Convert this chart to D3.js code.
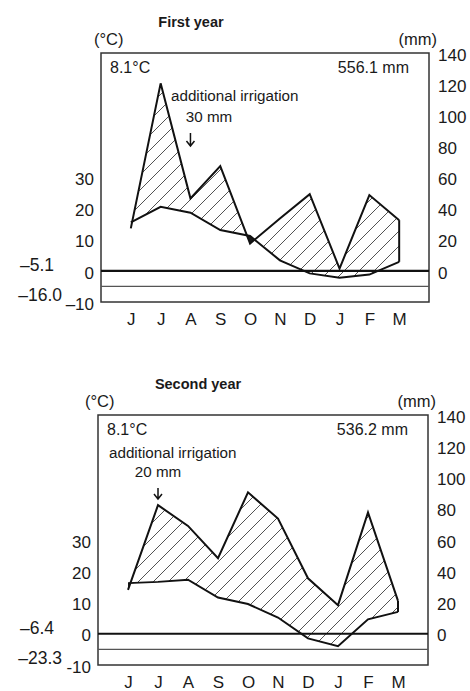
<!DOCTYPE html>
<html>
<head>
<meta charset="utf-8">
<script src="https://cdn.jsdelivr.net/npm/d3@7"></script>
<style>
  body { margin: 0; background: #fff; }
  text { font-family: "Liberation Sans", Arial, sans-serif; fill: #1a1a1a; }
</style>
</head>
<body>
<div id="chart"></div>
<script>
// month labels, June to March
const months = ['J', 'J', 'A', 'S', 'O', 'N', 'D', 'J', 'F', 'M'];
const tempTicks = [-10, 0, 10, 20, 30];
const precipTicks = [0, 20, 40, 60, 80, 100, 120, 140];

// first year
const temp1 = [15.6, 20.6, 18.7, 13.1, 11.2, 3.4, -0.8, -2.2, -1.2, 2.9];
const precip1 = [27.3, 120.5, 46.6, 67.3, 17.6, 33.6, 49.3, 1.5, 48.7, 32.6];
// second year
const temp2 = [16.2, 16.6, 17.3, 11.6, 9.5, 5.2, -1.5, -4.0, 4.6, 7.0];
const precip2 = [28.1, 82.3, 69.0, 48.4, 90.5, 73.7, 35.5, 18.3, 77.6, 21.0];

const titles = ['First year', 'Second year'];
const meanTemps = ['8.1°C', '8.1°C'];
const totals = ['556.1 mm', '536.2 mm'];
const irrigation = ['30 mm', '20 mm'];
const irrigMonth = [2, 1];
const minMean = ['–5.1', '–6.4'];
const minAbs = ['–16.0', '–23.3'];
const bottomTick = ['–10', '-10'];

const width = 470, height = 691;

const svg = d3.select('#chart')
    .append('svg')
    .attr('width', width)
    .attr('height', height);

// hatch pattern
svg.append('defs').append('pattern')
    .attr('id', 'hatch')
    .attr('patternUnits', 'userSpaceOnUse')
    .attr('width', 15)
    .attr('height', 15)
    .append('path')
    .attr('d', 'M-1,1 l2,-2 M0,15 L15,0 M14,16 l2,-2')
    .attr('stroke', '#1a1a1a')
    .attr('stroke-width', 0.75);

const panels = [
    { top: 53, bottom: 302, left: 101, right: 429, temp: temp1, precip: precip1,
      title: 191, unitX: 94, irrigText: [171, 101], irrigNum: [209, 122], arrow: [133, 146] },
    { top: 415, bottom: 665, left: 98, right: 428, temp: temp2, precip: precip2,
      title: 198, unitX: 85, irrigText: [109, 458], irrigNum: [158, 477], arrow: [488, 499] }
];

panels.forEach((p, k) => {
    const g = svg.append('g');

    const x = d3.scalePoint()
        .domain(d3.range(months.length))
        .range([p.left, p.right])
        .padding(1);
    const y = d3.scaleLinear().domain([-10, 70]).range([p.bottom, p.top]);
    const yP = d3.scaleLinear().domain([-20, 140]).range([p.bottom, p.top]);

    const idx = d3.range(months.length);

    // clip regions above and below the temperature line
    const above = d3.area().x(i => x(i)).y0(p.top).y1(i => y(p.temp[i]));
    const below = d3.area().x(i => x(i)).y0(p.bottom).y1(i => y(p.temp[i]));
    const defs = svg.select('defs');
    defs.append('clipPath').attr('id', 'above' + k)
        .append('path').attr('d', above(idx));
    defs.append('clipPath').attr('id', 'below' + k)
        .append('path').attr('d', below(idx));

    const between = d3.area()
        .x(i => x(i))
        .y0(i => y(p.temp[i]))
        .y1(i => yP(p.precip[i]));

    // humid period, hatched
    g.append('path')
        .attr('d', between(idx))
        .attr('fill', 'url(#hatch)')
        .attr('clip-path', `url(#above${k})`);
    // arid period, black
    g.append('path')
        .attr('d', between(idx))
        .attr('fill', '#1a1a1a')
        .attr('clip-path', `url(#below${k})`);

    // frame and reference lines
    g.append('rect')
        .attr('x', p.left).attr('y', p.top)
        .attr('width', p.right - p.left).attr('height', p.bottom - p.top)
        .attr('fill', 'none').attr('stroke', '#333').attr('stroke-width', 1.5);
    g.append('line')
        .attr('x1', p.left).attr('x2', p.right)
        .attr('y1', y(-5)).attr('y2', y(-5))
        .attr('stroke', '#555').attr('stroke-width', 1.3);
    g.append('line')
        .attr('x1', p.left).attr('x2', p.right)
        .attr('y1', y(0)).attr('y2', y(0))
        .attr('stroke', '#111').attr('stroke-width', 2.2);

    // temperature and precipitation lines
    const tLine = d3.line().x(i => x(i)).y(i => y(p.temp[i]));
    const pLine = d3.line().x(i => x(i)).y(i => yP(p.precip[i]));
    g.append('path').attr('d', tLine(idx))
        .attr('fill', 'none').attr('stroke', '#111').attr('stroke-width', 2);
    g.append('path').attr('d', pLine(idx))
        .attr('fill', 'none').attr('stroke', '#111').attr('stroke-width', 2);
    const last = months.length - 1;
    g.append('line')
        .attr('x1', x(last)).attr('x2', x(last))
        .attr('y1', yP(p.precip[last])).attr('y2', y(p.temp[last]))
        .attr('stroke', '#111').attr('stroke-width', 2);

    // axes
    const styleAxis = sel => {
        sel.select('.domain').remove();
        sel.attr('font-size', null).attr('font-family', null);
        sel.selectAll('text').attr('font-size', 17);
    };
    g.append('g')
        .attr('transform', `translate(${p.left},0)`)
        .call(d3.axisLeft(y).tickValues(tempTicks).tickSize(0).tickPadding(7)
            .tickFormat(d => d === -10 ? bottomTick[k] : d))
        .call(styleAxis)
        .selectAll('text').attr('dy', '0.42em');
    g.append('g')
        .attr('transform', `translate(${p.right},0)`)
        .call(d3.axisRight(yP).tickValues(precipTicks).tickSize(0).tickPadding(9))
        .call(styleAxis)
        .selectAll('text').attr('dy', '0.42em');
    g.append('g')
        .attr('transform', `translate(0,${p.bottom})`)
        .call(d3.axisBottom(x).tickSize(0).tickPadding(11).tickFormat(i => months[i]))
        .call(styleAxis);

    // extreme minimum labels
    g.append('text').attr('x', 54).attr('y', y(0) - 6).attr('dy', '0.35em')
        .attr('text-anchor', 'end').attr('font-size', 17.5).text(minMean[k]);
    g.append('text').attr('x', 62).attr('y', p.bottom - 7).attr('dy', '0.35em')
        .attr('text-anchor', 'end').attr('font-size', 17.5).text(minAbs[k]);

    // units and title
    g.append('text').attr('x', p.unitX).attr('y', p.top - 8)
        .attr('font-size', 16.5).text('(°C)');
    g.append('text').attr('x', p.right + 8).attr('y', p.top - 8)
        .attr('text-anchor', 'end').attr('font-size', 16.5).text('(mm)');
    g.append('text').attr('x', p.title).attr('y', p.top - 26)
        .attr('text-anchor', 'middle').attr('font-size', 14.5)
        .attr('font-weight', 'bold').text(titles[k]);

    // annotations
    g.append('text').attr('x', p.left + 9).attr('y', p.top + 20)
        .attr('font-size', 16).text(meanTemps[k]);
    g.append('text').attr('x', p.right - 20).attr('y', p.top + 20)
        .attr('text-anchor', 'end').attr('font-size', 16).text(totals[k]);
    g.append('text').attr('x', p.irrigText[0]).attr('y', p.irrigText[1])
        .attr('font-size', 15.2).text('additional irrigation');
    g.append('text').attr('x', p.irrigNum[0]).attr('y', p.irrigNum[1])
        .attr('text-anchor', 'middle').attr('font-size', 15.2).text(irrigation[k]);

    const ax = x(irrigMonth[k]);
    g.append('path')
        .attr('d', `M${ax},${p.arrow[0]} V${p.arrow[1]} M${ax - 4},${p.arrow[1] - 5} L${ax},${p.arrow[1]} L${ax + 4},${p.arrow[1] - 5}`)
        .attr('fill', 'none').attr('stroke', '#111').attr('stroke-width', 1.5);
});
</script>
</body>
</html>
